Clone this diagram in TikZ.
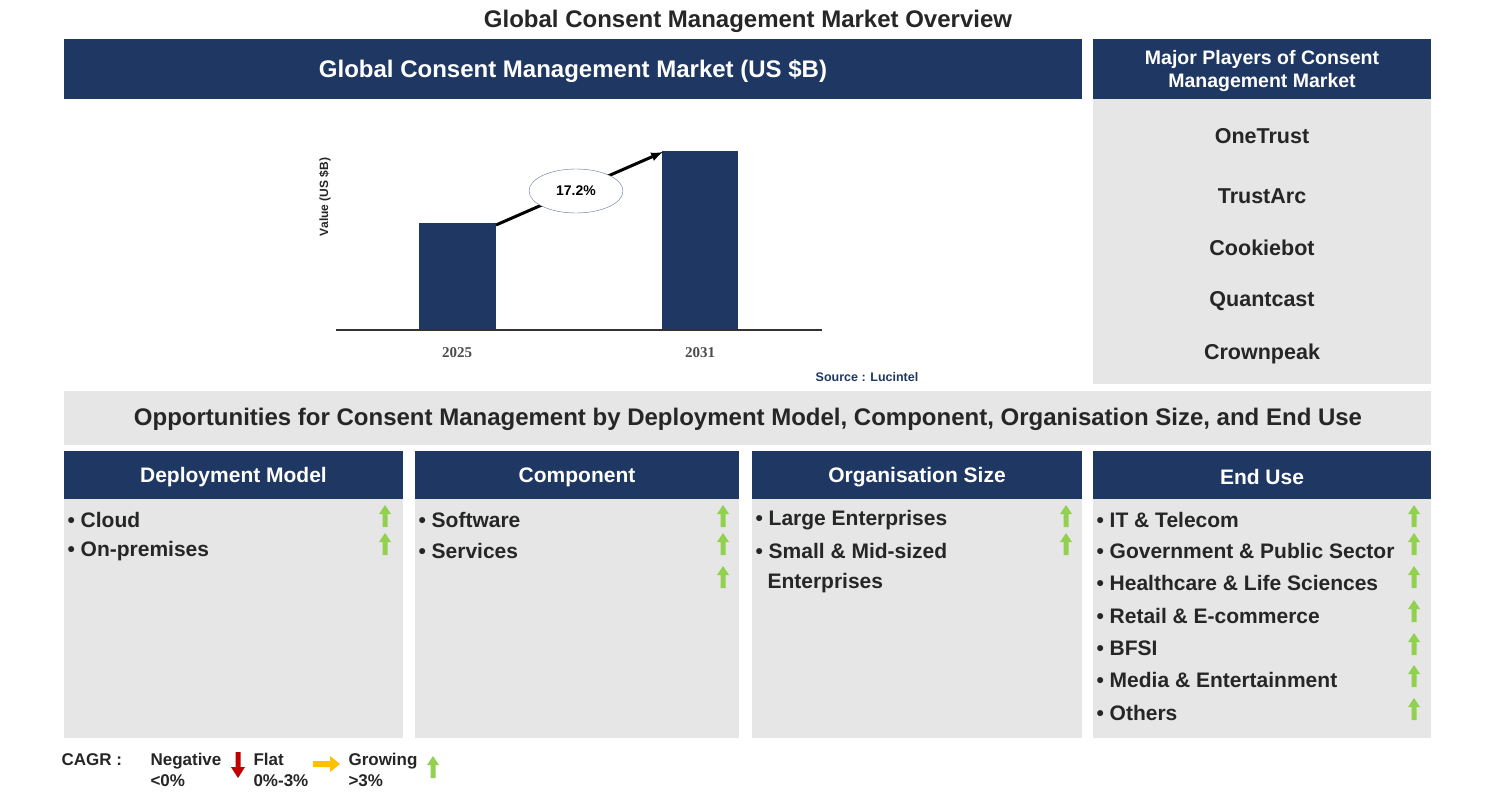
\documentclass[tikz,border=0pt]{standalone}
\usepackage{fontspec}
\usetikzlibrary{shapes.geometric}
\setmainfont{Liberation Sans}
\newfontfamily\serifb{Liberation Serif}
\definecolor{navy}{RGB}{31,56,99}
\definecolor{pgray}{RGB}{230,230,230}
\definecolor{tdark}{RGB}{38,38,38}
\definecolor{agreen}{RGB}{146,208,80}
\definecolor{ared}{RGB}{192,0,0}
\definecolor{ayel}{RGB}{255,192,0}
\newcommand{\fs}[1]{\fontsize{#1}{\dimexpr #1pt*6/5\relax}\selectfont}
\newcommand{\uparr}[2]{\fill[agreen] (#1-2.5,#2+11) -- (#1-2.5,#2-2) -- (#1-6,#2-2) -- (#1,#2-11) -- (#1+6,#2-2) -- (#1+2.5,#2-2) -- (#1+2.5,#2+11) -- cycle;}
\begin{document}
\begin{tikzpicture}[x=1pt,y=-1pt,
  item/.style={anchor=west,text=tdark,font=\bfseries\fs{21}},
  player/.style={text=tdark,font=\bfseries\fs{21.5}}]
\useasboundingbox (0,0) rectangle (1496,800);
\fill[white] (0,0) rectangle (1496,800);
\node[font=\bfseries\fs{24},text=tdark] (title) at (748,21) {Global Consent Management Market Overview};
% top banners
\fill[navy] (64,39) rectangle (1082,99);
\node[text=white,font=\bfseries\fs{24}] (banner) at (573,71) {Global Consent Management Market (US \$B)};
\fill[navy] (1093,39) rectangle (1431,99);
\node[text=white,font=\bfseries\fs{19.5},align=center,inner sep=0pt] (mp) at (1262,71) {Major Players of Consent\\[-1pt]Management Market};
\fill[pgray] (1093,99) rectangle (1431,384);
\node[player] (p1) at (1262,136) {OneTrust};
\node[player] (p2) at (1262,196) {TrustArc};
\node[player] (p3) at (1262,248) {Cookiebot};
\node[player] (p4) at (1262,301) {Quantcast};
\node[player] (p5) at (1262,354) {Crownpeak};
% chart
\fill[navy] (419,223) rectangle (496,330);
\fill[navy] (662,151) rectangle (738,330);
\draw[black!80,line width=1.2pt] (336,330) -- (822,330);
\node[font=\serifb\bfseries\fs{15},text=black!70] (y1) at (457,353) {2025};
\node[font=\serifb\bfseries\fs{15},text=black!70] (y2) at (700,353) {2031};
\node[rotate=90,font=\bfseries\fs{12},text=tdark] (yl) at (325,197) {Value (US \$B)};
\coordinate (a1) at (496,225);
\coordinate (a2) at (663,152);
\draw[-latex,line width=3pt] (a1) -- (a2);
\node[draw=navy!70,fill=white,ellipse,minimum width=94,minimum height=44,inner sep=0pt,font=\bfseries\fs{14}] (cagr) at (576,191) {17.2\%};
\node[font=\bfseries\fs{12.5},text=navy] (src) at (867,377) {Source : Lucintel};
% opportunities band
\fill[pgray] (64,391) rectangle (1431,445);
\node[font=\bfseries\fs{24},text=tdark] (opp) at (748,419) {Opportunities for Consent Management by Deployment Model, Component, Organisation Size, and End Use};
% columns
\foreach \xa/\xb/\t in {64/403/Deployment Model,415/739/Component,752/1082/Organisation Size,1093/1431/End Use}{
  \fill[navy] (\xa,451) rectangle (\xb,499);
  \fill[pgray] (\xa,499) rectangle (\xb,738);
  \node[text=white,font=\bfseries\fs{21}] at ({(\xa+\xb)/2},477) {\t};
}
\node[item] (d1) at (64,520) {• Cloud};
\node[item] (d2) at (64,551) {• On-premises};
\uparr{385}{516}\uparr{385}{544}
\node[item] (c1) at (415,520) {• Software};
\node[item] (c2) at (415,551) {• Services};
\uparr{723}{516}\uparr{723}{544}\uparr{723}{577}
\node[item] (o1) at (752,520) {• Large Enterprises};
\node[item] (o2) at (752,551) {• Small \& Mid-sized};
\node[item] (o3) at (764,583) {Enterprises};
\uparr{1066}{516}\uparr{1066}{544}
\node[item] (e1) at (1093,520) {• IT \& Telecom};
\node[item] (e2) at (1093,551) {• Government \& Public Sector};
\node[item] (e3) at (1093,583) {• Healthcare \& Life Sciences};
\node[item] (e4) at (1093,616) {• Retail \& E-commerce};
\node[item] (e5) at (1093,648) {• BFSI};
\node[item] (e6) at (1093,680) {• Media \& Entertainment};
\node[item] (e7) at (1093,713) {• Others};
\foreach \yy in {516,544,577,611,644,676,709}{\uparr{1414}{\yy}}
% legend
\node[font=\bfseries\fs{17},text=tdark,anchor=west] (cg) at (58,760) {CAGR :};
\node[font=\bfseries\fs{17},text=tdark,anchor=west,align=left] (neg) at (147,770) {Negative\\<0\%};
\fill[ared] (235.5,752) -- (240.5,752) -- (240.5,767) -- (245,767) -- (238,778) -- (231,767) -- (235.5,767) -- cycle;
\node[font=\bfseries\fs{17},text=tdark,anchor=west,align=left] (flat) at (250,770) {Flat\\0\%-3\%};
\fill[ayel] (313,761) -- (330,761) -- (330,756) -- (340,764) -- (330,772) -- (330,767) -- (313,767) -- cycle;
\node[font=\bfseries\fs{17},text=tdark,anchor=west,align=left] (grow) at (345,770) {Growing\\>3\%};
\uparr{433}{767}
\end{tikzpicture}
\end{document}
